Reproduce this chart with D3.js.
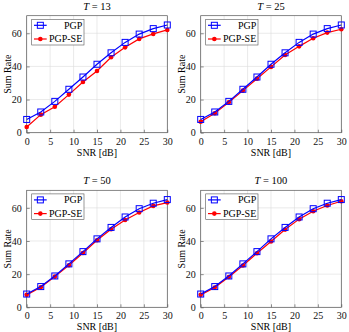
<!DOCTYPE html>
<meta charset="utf-8">
<script src="https://d3js.org/d3.v7.min.js"></script>
<div id="my_dataviz"></div>
<style>
    body { margin: 0; background: #fff; }
    text { font-family: "Liberation Serif", "DejaVu Serif", serif; }
</style>
<script>

    // data
    var snr = [0, 3, 6, 9, 12, 15, 18, 21, 24, 27, 30];
    var titles = ["13", "25", "50", "100"];
    var pgp = [
        [8.0, 12.5, 18.9, 26.2, 33.6, 41.3, 48.2, 54.5, 59.5, 62.8, 65.0],
        [8.0, 12.5, 18.9, 26.2, 33.6, 41.3, 48.2, 54.5, 59.5, 62.8, 65.0],
        [8.0, 12.5, 18.9, 26.2, 33.6, 41.3, 48.2, 54.5, 59.5, 62.8, 65.0],
        [8.0, 12.5, 18.9, 26.2, 33.6, 41.3, 48.2, 54.5, 59.5, 62.8, 65.0]
    ];
    var pgpSE = [
        [3.4, 10.9, 15.7, 23.0, 30.6, 37.2, 45.5, 51.5, 56.6, 59.6, 62.0],
        [6.6, 11.7, 18.3, 25.4, 32.6, 39.7, 46.9, 52.1, 57.0, 60.4, 62.4],
        [7.5, 12.1, 18.5, 25.4, 32.8, 40.5, 47.1, 52.7, 57.2, 61.2, 63.2],
        [7.5, 11.9, 18.3, 25.2, 32.6, 39.7, 46.9, 53.2, 58.0, 61.4, 64.0]
    ];
    var xTicks = [0, 5, 10, 15, 20, 25, 30];
    var yTicks = [0, 20, 40, 60];
    var seriesNames = ["PGP", "PGP-SE"];

    var svg = d3.select("#my_dataviz")
        .append("svg")
        .attr("width", 349)
        .attr("height", 332);

    // panel boxes: left, top
    var panels = [
        { left: 26.7, top: 15.7 },
        { left: 200.7, top: 15.7 },
        { left: 26.7, top: 190.3 },
        { left: 200.7, top: 190.3 }
    ];
    var pw = 140.6, ph = 117;

    panels.forEach(function (p, i) {
        var g = svg.append("g")
            .attr("transform", "translate(" + p.left + "," + p.top + ")");

        var x = d3.scaleLinear().domain([0, 30]).range([0, pw]);
        var y = d3.scaleLinear().domain([0, 70.6]).range([ph, 0]);

        // grid
        g.selectAll(".vg").data(xTicks).enter().append("line")
            .attr("x1", d => x(d)).attr("x2", d => x(d))
            .attr("y1", 0).attr("y2", ph)
            .attr("stroke", "#dcdcdc").attr("stroke-width", 0.6);
        g.selectAll(".hg").data(yTicks).enter().append("line")
            .attr("x1", 0).attr("x2", pw)
            .attr("y1", d => y(d)).attr("y2", d => y(d))
            .attr("stroke", "#dcdcdc").attr("stroke-width", 0.6);

        // axes, ticks pointing inward
        g.append("g")
            .attr("transform", "translate(0," + ph + ")")
            .call(d3.axisBottom(x).tickValues(xTicks).tickSize(-3).tickPadding(5));
        g.append("g")
            .call(d3.axisLeft(y).tickValues(yTicks).tickSize(-3).tickPadding(5));
        g.selectAll(".domain").remove();
        g.selectAll(".tick line").attr("stroke", "#444").attr("stroke-width", 0.6);
        g.selectAll(".tick text").style("font-size", "10px").attr("fill", "#111")
            .style("font-family", "'Liberation Serif', serif");

        g.append("rect")
            .attr("width", pw).attr("height", ph)
            .attr("fill", "none").attr("stroke", "#555").attr("stroke-width", 0.7);

        var line = d3.line()
            .x((d, k) => x(snr[k]))
            .y(d => y(d));

        // PGP-SE
        g.append("path").datum(pgpSE[i])
            .attr("d", line).attr("fill", "none")
            .attr("stroke", "#ff0000").attr("stroke-width", 1.2);
        g.selectAll(".se").data(pgpSE[i]).enter().append("circle")
            .attr("cx", (d, k) => x(snr[k])).attr("cy", d => y(d))
            .attr("r", 2.3).attr("fill", "#ff0000");

        // PGP
        g.append("path").datum(pgp[i])
            .attr("d", line).attr("fill", "none")
            .attr("stroke", "#0000ff").attr("stroke-width", 1.2);
        g.selectAll(".pg").data(pgp[i]).enter().append("rect")
            .attr("x", (d, k) => x(snr[k]) - 3).attr("y", d => y(d) - 3)
            .attr("width", 6).attr("height", 6)
            .attr("fill", "none").attr("stroke", "#0000ff").attr("stroke-width", 1);

        // title
        var t = g.append("text")
            .attr("x", pw / 2).attr("y", -6)
            .attr("text-anchor", "middle")
            .style("font-size", "10.5px");
        t.append("tspan").style("font-style", "italic").text("T");
        t.append("tspan").text(" = " + titles[i]);

        // axis labels
        g.append("text")
            .attr("x", pw / 2).attr("y", ph + 23)
            .attr("text-anchor", "middle")
            .style("font-size", "10px")
            .text("SNR [dB]");
        g.append("text")
            .attr("transform", "rotate(-90)")
            .attr("x", -ph / 2).attr("y", -16)
            .attr("text-anchor", "middle")
            .style("font-size", "10px")
            .text("Sum Rate");

        // legend
        var lg = g.append("g").attr("transform", "translate(5,3.6)");
        lg.append("rect")
            .attr("width", 52.3).attr("height", 25.7)
            .attr("fill", "#fff").attr("stroke", "#555").attr("stroke-width", 0.6);
        seriesNames.forEach(function (name, j) {
            var yy = 6 + j * 13.7;
            var col = j === 0 ? "#0000ff" : "#ff0000";
            lg.append("line")
                .attr("x1", 2.3).attr("x2", 15).attr("y1", yy).attr("y2", yy)
                .attr("stroke", col).attr("stroke-width", 1.2);
            if (j === 0) {
                lg.append("rect")
                    .attr("x", 8.65 - 3).attr("y", yy - 3).attr("width", 6).attr("height", 6)
                    .attr("fill", "none").attr("stroke", col).attr("stroke-width", 1);
            } else {
                lg.append("circle")
                    .attr("cx", 8.65).attr("cy", yy).attr("r", 2.3).attr("fill", col);
            }
            lg.append("text")
                .attr("x", 50.6).attr("y", yy + 3.4)
                .attr("text-anchor", "end")
                .style("font-size", "10px")
                .text(name);
        });
    });

</script>
